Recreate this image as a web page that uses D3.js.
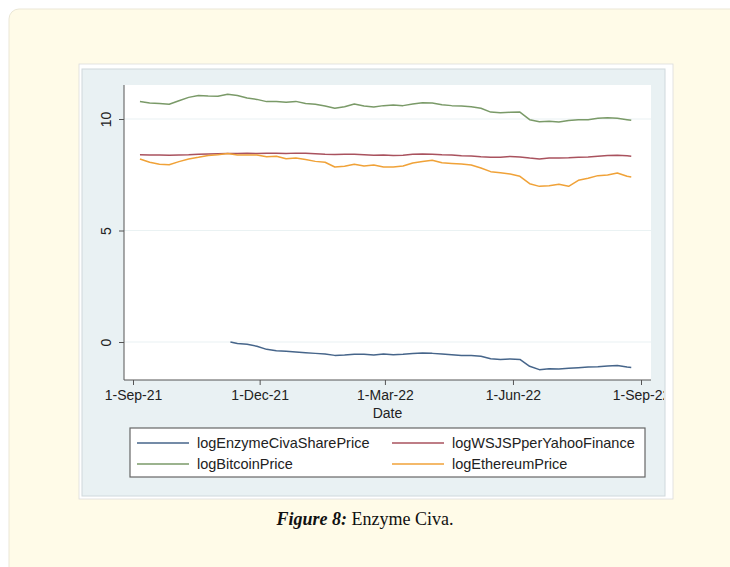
<!DOCTYPE html>
<html lang="en">
  <head>
    <meta charset="UTF-8" />
    <title>Enzyme Civa</title>
    <script src="https://d3js.org/d3.v7.min.js"></script>
    <style>
      html, body { margin: 0; padding: 0; background: #ffffff; }
      svg { display: block; }
      .axis text { font-family: "Liberation Sans", Arial, sans-serif; fill: #222; }
      .legend text { font-family: "Liberation Sans", Arial, sans-serif; fill: #222; }
    </style>
  </head>
  <body>
    <svg id="chart" width="730" height="567"></svg>
    <script>
      // weekly readings taken off the figure
      const dates = [
        "2021-09-06","2021-09-13","2021-09-20","2021-09-27","2021-10-04","2021-10-11","2021-10-18",
        "2021-10-25","2021-11-01","2021-11-08","2021-11-15","2021-11-22","2021-11-29","2021-12-06",
        "2021-12-13","2021-12-20","2021-12-27","2022-01-03","2022-01-10","2022-01-17","2022-01-24",
        "2022-01-31","2022-02-07","2022-02-14","2022-02-21","2022-02-28","2022-03-07","2022-03-14",
        "2022-03-21","2022-03-28","2022-04-04","2022-04-11","2022-04-18","2022-04-25","2022-05-02",
        "2022-05-09","2022-05-16","2022-05-23","2022-05-30","2022-06-06","2022-06-13","2022-06-20",
        "2022-06-27","2022-07-04","2022-07-11","2022-07-18","2022-07-25","2022-08-01","2022-08-08",
        "2022-08-15","2022-08-22","2022-08-25"
      ];
      const logBitcoinPrice = [
        10.79,10.72,10.70,10.66,10.82,10.97,11.05,11.03,11.02,11.11,11.05,10.94,10.88,10.78,
        10.79,10.75,10.79,10.70,10.66,10.58,10.48,10.55,10.67,10.58,10.54,10.60,10.63,10.60,
        10.67,10.73,10.72,10.64,10.60,10.58,10.55,10.48,10.31,10.28,10.30,10.31,9.97,9.88,
        9.90,9.87,9.93,9.97,9.97,10.03,10.06,10.03,9.97,9.94
      ];
      const logWSJSPperYahooFinance = [
        8.40,8.39,8.39,8.38,8.39,8.40,8.42,8.43,8.44,8.45,8.45,8.46,8.45,8.46,
        8.46,8.45,8.47,8.46,8.44,8.42,8.41,8.42,8.42,8.40,8.38,8.39,8.36,8.38,
        8.42,8.43,8.42,8.40,8.39,8.35,8.34,8.31,8.29,8.29,8.32,8.30,8.25,8.21,
        8.25,8.25,8.26,8.28,8.30,8.33,8.36,8.37,8.35,8.33
      ];
      const logEthereumPrice = [
        8.21,8.06,7.97,7.95,8.09,8.21,8.28,8.36,8.40,8.45,8.39,8.39,8.39,8.31,
        8.33,8.22,8.25,8.18,8.10,8.06,7.85,7.88,7.97,7.89,7.94,7.85,7.85,7.89,
        8.03,8.09,8.15,8.04,8.01,7.98,7.94,7.80,7.64,7.59,7.53,7.43,7.10,6.98,
        7.01,7.07,6.98,7.25,7.34,7.46,7.49,7.58,7.43,7.40
      ];
      // the Enzyme series only starts in November
      const enzymeDates = [
        "2021-11-10","2021-11-15","2021-11-22","2021-11-29","2021-12-06","2021-12-13","2021-12-20",
        "2021-12-27","2022-01-03","2022-01-10","2022-01-17","2022-01-24","2022-01-31","2022-02-07",
        "2022-02-14","2022-02-21","2022-02-28","2022-03-07","2022-03-14","2022-03-21","2022-03-28",
        "2022-04-04","2022-04-11","2022-04-18","2022-04-25","2022-05-02","2022-05-09","2022-05-16",
        "2022-05-23","2022-05-30","2022-06-06","2022-06-13","2022-06-20","2022-06-27","2022-07-04",
        "2022-07-11","2022-07-18","2022-07-25","2022-08-01","2022-08-08","2022-08-15","2022-08-22",
        "2022-08-25"
      ];
      const logEnzymeCivaSharePrice = [
        0.00,-0.07,-0.10,-0.19,-0.33,-0.39,-0.42,-0.45,-0.48,-0.51,-0.54,-0.60,-0.58,-0.55,
        -0.55,-0.58,-0.54,-0.57,-0.55,-0.52,-0.49,-0.51,-0.54,-0.57,-0.60,-0.60,-0.64,-0.75,
        -0.78,-0.76,-0.78,-1.09,-1.24,-1.20,-1.21,-1.18,-1.15,-1.12,-1.11,-1.08,-1.05,-1.12,
        -1.14
      ];
      const xTickDates = ["2021-09-01","2021-12-01","2022-03-01","2022-06-01","2022-09-01"];
      const yTicks = [0, 5, 10];

      const parse = d3.utcParse("%Y-%m-%d");
      const series = [
        { name: "logEnzymeCivaSharePrice", color: "#46658a", x: enzymeDates, y: logEnzymeCivaSharePrice },
        { name: "logWSJSPperYahooFinance", color: "#a9525e", x: dates, y: logWSJSPperYahooFinance },
        { name: "logBitcoinPrice", color: "#7a9a68", x: dates, y: logBitcoinPrice },
        { name: "logEthereumPrice", color: "#f0a238", x: dates, y: logEthereumPrice }
      ];

      const svg = d3.select("#chart");

      // page card
      svg.append("rect")
        .attr("x", 9).attr("y", 9).attr("width", 740).attr("height", 580)
        .attr("rx", 10)
        .attr("fill", "#fffbe8").attr("stroke", "#ebe7d6");

      // image frame and Stata graph region
      svg.append("rect")
        .attr("x", 79).attr("y", 64).attr("width", 594).attr("height", 435)
        .attr("fill", "#ffffff").attr("stroke", "#dcdcdc").attr("stroke-width", 0.8);
      svg.append("rect")
        .attr("x", 82).attr("y", 69).attr("width", 583).attr("height", 427)
        .attr("fill", "#e9f1f3").attr("stroke", "#cfd8dc");

      svg.append("clipPath").attr("id", "panel")
        .append("rect").attr("x", 82).attr("y", 69).attr("width", 582).attr("height", 427);

      const g = svg.append("g").attr("clip-path", "url(#panel)");

      const plot = { left: 124, right: 651, top: 85, bottom: 380 };

      const x = d3.scaleUtc()
        .domain([parse("2021-09-01"), parse("2022-09-01")])
        .range([133, 641]);
      const y = d3.scaleLinear()
        .domain([-1.704, 11.525])
        .range([plot.bottom, plot.top]);

      // plot region
      g.append("rect")
        .attr("x", plot.left).attr("y", plot.top)
        .attr("width", plot.right - plot.left).attr("height", plot.bottom - plot.top)
        .attr("fill", "#ffffff");

      // grid lines
      g.append("g")
        .selectAll("line")
        .data(yTicks)
        .join("line")
        .attr("x1", plot.left).attr("x2", plot.right)
        .attr("y1", (d) => y(d)).attr("y2", (d) => y(d))
        .attr("stroke", "#eaf2f3").attr("stroke-width", 1.2);

      // lines
      const line = d3.line()
        .x((d) => x(d[0]))
        .y((d) => y(d[1]));

      g.append("g")
        .selectAll("path")
        .data(series)
        .join("path")
        .attr("d", (s) => line(s.x.map((t, i) => [parse(t), s.y[i]])))
        .attr("fill", "none")
        .attr("stroke", (s) => s.color)
        .attr("stroke-width", 1.5)
        .attr("stroke-linejoin", "round");

      // axes
      const xAxis = d3.axisBottom(x)
        .tickValues(xTickDates.map(parse))
        .tickFormat(d3.utcFormat("%-d-%b-%y"))
        .tickSize(5)
        .tickPadding(5);
      const xg = g.append("g")
        .attr("class", "axis")
        .attr("transform", `translate(0,${plot.bottom})`)
        .call(xAxis);
      xg.select(".domain").remove();
      xg.selectAll("line").attr("stroke", "#555");
      xg.selectAll("text").attr("font-size", 14);

      const yAxis = d3.axisLeft(y).tickValues(yTicks).tickSize(5).tickPadding(4);
      const yg = g.append("g")
        .attr("class", "axis")
        .attr("transform", `translate(${plot.left},0)`)
        .call(yAxis);
      yg.select(".domain").remove();
      yg.selectAll("line").attr("stroke", "#555");
      yg.selectAll("text")
        .attr("font-size", 14)
        .attr("text-anchor", "middle")
        .attr("dy", null)
        .attr("x", 0).attr("y", 0)
        .attr("transform", "translate(-13,0) rotate(-90)");

      g.append("line")
        .attr("x1", plot.left).attr("x2", plot.right)
        .attr("y1", plot.bottom).attr("y2", plot.bottom)
        .attr("stroke", "#555");
      g.append("line")
        .attr("x1", plot.left).attr("x2", plot.left)
        .attr("y1", plot.top).attr("y2", plot.bottom)
        .attr("stroke", "#555");

      g.append("text")
        .attr("class", "axis")
        .attr("x", (plot.left + plot.right) / 2).attr("y", 418)
        .attr("text-anchor", "middle")
        .attr("font-family", "Liberation Sans, Arial, sans-serif")
        .attr("font-size", 14).attr("fill", "#222")
        .text("Date");

      // legend
      const legend = g.append("g").attr("class", "legend");
      legend.append("rect")
        .attr("x", 130).attr("y", 428).attr("width", 515).attr("height", 49)
        .attr("fill", "#ffffff").attr("stroke", "#666").attr("stroke-width", 1.2);
      const items = legend.selectAll("g.item")
        .data(series)
        .join("g")
        .attr("class", "item")
        .attr("transform", (s, i) => `translate(${i % 2 === 0 ? 137 : 392},${i < 2 ? 443 : 464})`);
      items.append("line")
        .attr("x1", 0).attr("x2", 52)
        .attr("stroke", (s) => s.color).attr("stroke-width", 1.5);
      items.append("text")
        .attr("x", 60).attr("dy", "0.35em")
        .attr("font-size", 14.5)
        .text((s) => s.name);

      // caption
      const cap = svg.append("text")
        .attr("y", 525)
        .attr("font-family", "Liberation Serif, Times New Roman, serif")
        .attr("font-size", 18).attr("fill", "#111");
      cap.append("tspan").attr("font-weight", "bold").attr("font-style", "italic").text("Figure 8:");
      cap.append("tspan").text(" Enzyme Civa.");
      const w = cap.node().getComputedTextLength();
      cap.attr("x", 365 - w / 2);
    </script>
  </body>
</html>
